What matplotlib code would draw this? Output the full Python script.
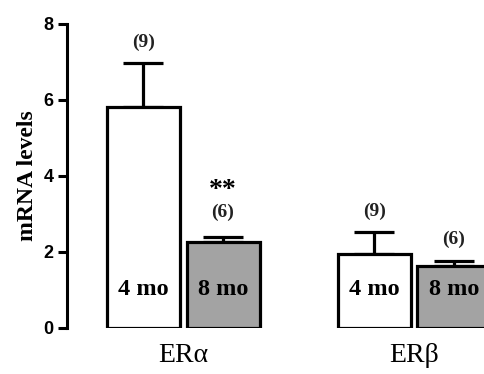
import matplotlib.pyplot as plt
import numpy as np

# data
groups = ['ER\u03b1', 'ER\u03b2']
ages = ['4 mo', '8 mo']
means = {'4 mo': [5.82, 1.95], '8 mo': [2.27, 1.62]}
sems = {'4 mo': [1.15, 0.57], '8 mo': [0.13, 0.15]}
n_labels = {'4 mo': ['(9)', '(9)'], '8 mo': ['(6)', '(6)']}
stars = {'8 mo': ['**', '']}
yticks = [0, 2, 4, 6, 8]

fills = {'4 mo': 'white', '8 mo': '#a3a3a3'}
group_x = np.array([0.545, 3.705])
offset = {'4 mo': -0.545, '8 mo': 0.545}

fig = plt.figure(figsize=(4.85, 3.74), dpi=100)
ax = fig.add_axes([0.138, 0.123, 0.862, 0.813])

for age in ages:
    xs = group_x + offset[age]
    ax.bar(xs, means[age], width=1.0, color=fills[age], edgecolor='black',
           linewidth=2.3, zorder=2)
    ax.errorbar(xs, means[age], yerr=[np.zeros(len(xs)), sems[age]],
                fmt='none', ecolor='black', elinewidth=2.3, capsize=14.5,
                capthick=2.3, zorder=1)
    for i, x in enumerate(xs):
        top = means[age][i] + sems[age][i]
        lift = 0.55
        if age in stars and stars[age][i]:
            lift = 0.65
            ax.text(x, top + 1.22, stars[age][i], ha='center', va='center',
                    family='Liberation Serif', fontweight='bold', fontsize=20)
        ax.text(x, top + lift, n_labels[age][i], ha='center', va='center',
                family='Liberation Serif', fontweight='bold', fontsize=14,
                color='#222222')
        ax.text(x, 1.0, age, ha='center', va='center',
                family='Liberation Serif', fontweight='bold', fontsize=17.5)

ax.set_xlim(-1.048, 4.678)
ax.set_ylim(0, 8)
ax.set_yticks(yticks)
ax.set_yticklabels([str(t) for t in yticks], family='Liberation Sans',
                   fontweight='bold', fontsize=13)
ax.set_xticks(group_x)
ax.set_xticklabels(groups, family='Liberation Serif', fontsize=20)
ax.tick_params(axis='x', length=0, pad=10.5)
ax.tick_params(axis='y', length=6.5, width=2.2, pad=3)
for s in ['top', 'right', 'bottom']:
    ax.spines[s].set_visible(False)
ax.spines['left'].set_linewidth(2.2)
ax.set_ylabel('mRNA levels', family='Liberation Serif', fontweight='bold',
              fontsize=17, labelpad=4)

plt.savefig('out.png', dpi=100)
